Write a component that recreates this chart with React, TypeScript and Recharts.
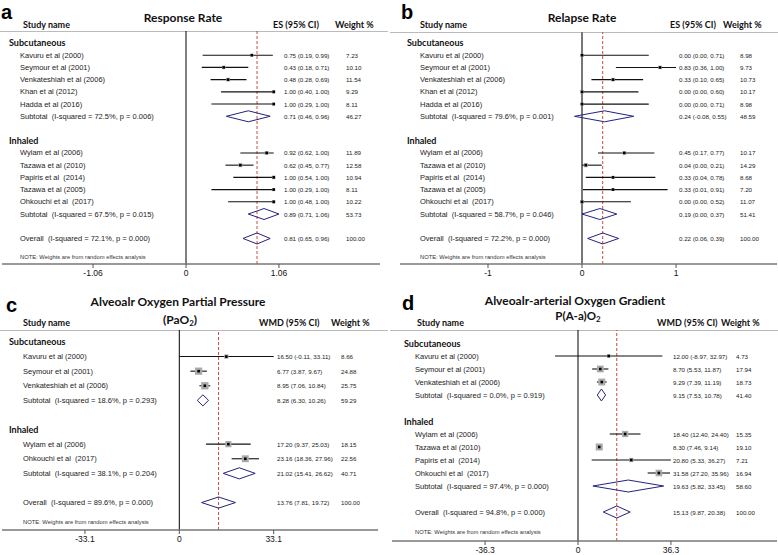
import { ComposedChart, Scatter, XAxis, YAxis, ReferenceLine } from "recharts";

type Est = { label: string; es: number; lo: number; hi: number; w: number };

const groupNames = ["Subcutaneous", "Inhaled"];
const noteText = "NOTE: Weights are from random effects analysis";

// (a) response rate
const respSubcut: Est[] = [
  { label: "Kavuru et al (2000)", es: 0.75, lo: 0.19, hi: 0.99, w: 7.23 },
  { label: "Seymour et al (2001)", es: 0.43, lo: 0.18, hi: 0.71, w: 10.1 },
  { label: "Venkateshiah et al (2006)", es: 0.48, lo: 0.28, hi: 0.69, w: 11.54 },
  { label: "Khan et al (2012)", es: 1.0, lo: 0.4, hi: 1.0, w: 9.29 },
  { label: "Hadda et al (2016)", es: 1.0, lo: 0.29, hi: 1.0, w: 8.11 },
];
const respInhaled: Est[] = [
  { label: "Wylam et al (2006)", es: 0.92, lo: 0.62, hi: 1.0, w: 11.89 },
  { label: "Tazawa et al (2010)", es: 0.62, lo: 0.45, hi: 0.77, w: 12.58 },
  { label: "Papiris et al  (2014)", es: 1.0, lo: 0.54, hi: 1.0, w: 10.94 },
  { label: "Tazawa et al (2005)", es: 1.0, lo: 0.29, hi: 1.0, w: 8.11 },
  { label: "Ohkouchi et al  (2017)", es: 1.0, lo: 0.48, hi: 1.0, w: 10.22 },
];
const respSubtotals: Est[] = [
  { label: "Subtotal  (I-squared = 72.5%, p = 0.006)", es: 0.71, lo: 0.46, hi: 0.96, w: 46.27 },
  { label: "Subtotal  (I-squared = 67.5%, p = 0.015)", es: 0.89, lo: 0.71, hi: 1.06, w: 53.73 },
];
const respOverall: Est = { label: "Overall  (I-squared = 72.1%, p = 0.000)", es: 0.81, lo: 0.65, hi: 0.96, w: 100 };
const respTicks = [-1.06, 0, 1.06];

// (b) relapse rate
const relSubcut: Est[] = [
  { label: "Kavuru et al (2000)", es: 0.0, lo: 0.0, hi: 0.71, w: 8.98 },
  { label: "Seymour et al (2001)", es: 0.83, lo: 0.36, hi: 1.0, w: 9.73 },
  { label: "Venkateshiah et al (2006)", es: 0.33, lo: 0.1, hi: 0.65, w: 10.73 },
  { label: "Khan et al (2012)", es: 0.0, lo: 0.0, hi: 0.6, w: 10.17 },
  { label: "Hadda et al (2016)", es: 0.0, lo: 0.0, hi: 0.71, w: 8.98 },
];
const relInhaled: Est[] = [
  { label: "Wylam et al (2006)", es: 0.45, lo: 0.17, hi: 0.77, w: 10.17 },
  { label: "Tazawa et al (2010)", es: 0.04, lo: 0.0, hi: 0.21, w: 14.29 },
  { label: "Papiris et al  (2014)", es: 0.33, lo: 0.04, hi: 0.78, w: 8.68 },
  { label: "Tazawa et al (2005)", es: 0.33, lo: 0.01, hi: 0.91, w: 7.2 },
  { label: "Ohkouchi et al  (2017)", es: 0.0, lo: 0.0, hi: 0.52, w: 11.07 },
];
const relSubtotals: Est[] = [
  { label: "Subtotal  (I-squared = 79.6%, p = 0.001)", es: 0.24, lo: -0.08, hi: 0.55, w: 48.59 },
  { label: "Subtotal  (I-squared = 58.7%, p = 0.046)", es: 0.19, lo: 0.0, hi: 0.37, w: 51.41 },
];
const relOverall: Est = { label: "Overall  (I-squared = 72.2%, p = 0.000)", es: 0.22, lo: 0.06, hi: 0.39, w: 100 };
const relTicks = [-1, 0, 1];

// (c) PaO2
const paoSubcut: Est[] = [
  { label: "Kavuru et al (2000)", es: 16.5, lo: -0.11, hi: 33.11, w: 8.66 },
  { label: "Seymour et al (2001)", es: 6.77, lo: 3.87, hi: 9.67, w: 24.88 },
  { label: "Venkateshiah et al (2006)", es: 8.95, lo: 7.06, hi: 10.84, w: 25.75 },
];
const paoInhaled: Est[] = [
  { label: "Wylam et al (2006)", es: 17.2, lo: 9.37, hi: 25.03, w: 18.15 },
  { label: "Ohkouchi et al  (2017)", es: 23.16, lo: 18.36, hi: 27.96, w: 22.56 },
];
const paoSubtotals: Est[] = [
  { label: "Subtotal  (I-squared = 18.6%, p = 0.293)", es: 8.28, lo: 6.3, hi: 10.26, w: 59.29 },
  { label: "Subtotal  (I-squared = 38.1%, p = 0.204)", es: 21.02, lo: 15.41, hi: 26.62, w: 40.71 },
];
const paoOverall: Est = { label: "Overall  (I-squared = 89.6%, p = 0.000)", es: 13.76, lo: 7.81, hi: 19.72, w: 100 };
const paoTicks = [-33.1, 0, 33.1];

// (d) P(A-a)O2
const gradSubcut: Est[] = [
  { label: "Kavuru et al (2000)", es: 12.0, lo: -8.97, hi: 32.97, w: 4.73 },
  { label: "Seymour et al (2001)", es: 8.7, lo: 5.53, hi: 11.87, w: 17.94 },
  { label: "Venkateshiah et al (2006)", es: 9.29, lo: 7.39, hi: 11.19, w: 18.73 },
];
const gradInhaled: Est[] = [
  { label: "Wylam et al (2006)", es: 18.4, lo: 12.4, hi: 24.4, w: 15.35 },
  { label: "Tazawa et al (2010)", es: 8.3, lo: 7.46, hi: 9.14, w: 19.1 },
  { label: "Papiris et al  (2014)", es: 20.8, lo: 5.33, hi: 36.27, w: 7.21 },
  { label: "Ohkouchi et al  (2017)", es: 31.58, lo: 27.2, hi: 35.96, w: 16.94 },
];
const gradSubtotals: Est[] = [
  { label: "Subtotal  (I-squared = 0.0%, p = 0.919)", es: 9.15, lo: 7.53, hi: 10.78, w: 41.4 },
  { label: "Subtotal  (I-squared = 97.4%, p = 0.000)", es: 19.63, lo: 5.82, hi: 33.45, w: 58.6 },
];
const gradOverall: Est = { label: "Overall  (I-squared = 94.8%, p = 0.000)", es: 15.13, lo: 9.87, hi: 20.38, w: 100 };
const gradTicks = [-36.3, 0, 36.3];

const SANS = "'Liberation Sans', Arial, sans-serif";
const BOLD = "Lato, 'Open Sans', sans-serif";
const NAVY = "#23237e";

type Row = Partial<Est> & { kind: string; y: number; x: number };

function buildRows(groups: Est[][], subtotals: Est[], overall: Est, noteGap: number): Row[] {
  const rows: Row[] = [];
  let r = 0;
  groups.forEach((studies, i) => {
    rows.push({ kind: "group", label: groupNames[i], y: r, x: 0 });
    r++;
    studies.forEach((s) => {
      rows.push({ kind: "study", ...s, y: r, x: s.es });
      r++;
    });
    rows.push({ kind: "sub", ...subtotals[i], y: r, x: subtotals[i].es });
    r += 2;
  });
  rows.push({ kind: "overall", ...overall, y: r, x: overall.es });
  rows.push({ kind: "note", label: noteText, y: r + noteGap, x: 0 });
  return rows;
}

const panels = [
  {
    key: "a", groups: [respSubcut, respInhaled], subtotals: respSubtotals, overall: respOverall, ticks: respTicks,
    left: 0, top: 0, width: 385, height: 280, margin: { top: 31, right: 5, bottom: 0, left: 2 }, axisH: 16,
    xDomain: [-2.098, 2.212], yDomain: [-0.98, 18.09], noteGap: 1.5,
    cols: { group: 9, name: 20, ci: 284, w: 346 }, zero: "#000", zeroW: 1, box: 1.1, half: 0.45,
  },
  {
    key: "b", groups: [relSubcut, relInhaled], subtotals: relSubtotals, overall: relOverall, ticks: relTicks,
    left: 390, top: 0, width: 388, height: 280, margin: { top: 32, right: 1, bottom: 0, left: 10 }, axisH: 16,
    xDomain: [-1.936, 2.074], yDomain: [-0.9, 18.09], noteGap: 1.5,
    cols: { group: 407, name: 420, ci: 679, w: 740 }, zero: "#777", zeroW: 2, box: 1.1, half: 0.45,
  },
  {
    key: "c", groups: [paoSubcut, paoInhaled], subtotals: paoSubtotals, overall: paoOverall, ticks: paoTicks,
    left: 0, top: 280, width: 385, height: 275, margin: { top: 50, right: 7, bottom: 9, left: 2 }, axisH: 16,
    xDomain: [-62.2, 69.7], yDomain: [-0.82, 12.88], noteGap: 1.3,
    cols: { group: 9, name: 23, ci: 277, w: 341 }, zero: "#000", zeroW: 1, box: 1.45, half: 0.38,
  },
  {
    key: "d", groups: [gradSubcut, gradInhaled], subtotals: gradSubtotals, overall: gradOverall, ticks: gradTicks,
    left: 390, top: 280, width: 388, height: 275, margin: { top: 50, right: 1, bottom: 0, left: 2 }, axisH: 14,
    xDomain: [-72.66, 77.73], yDomain: [-1, 15.23], noteGap: 1.5,
    cols: { group: 404, name: 415, ci: 673, w: 736 }, zero: "#000", zeroW: 1, box: 1.6, half: 0.46,
  },
];

type Panel = (typeof panels)[number];

function Forest({ p }: { p: Panel }) {
  const rows = buildRows(p.groups, p.subtotals, p.overall, p.noteGap);
  const studies = rows.filter((r) => r.kind === "study");
  const diamonds = rows.filter((r) => r.kind === "sub" || r.kind === "overall");
  const labelRows = rows.map((r) => ({ ...r, x: 0 }));
  const cx0 = (px: number) => px - p.left;

  const Box = (props: any) => {
    const { cx, cy, payload } = props;
    const s = p.box * Math.sqrt(payload.w);
    return (
      <g>
        <rect x={cx - s / 2} y={cy - s / 2} width={s} height={s} fill="#aaa" />
        <rect x={cx - 1.3} y={cy - 1.3} width={2.6} height={2.6} fill="#000" />
      </g>
    );
  };

  const Label = (props: any) => {
    const { cy, payload } = props;
    if (payload.kind === "group") {
      return (
        <text x={cx0(p.cols.group)} y={cy} dominantBaseline="central" fontFamily={BOLD} fontWeight={700} fontSize={9} fill="#111">
          {payload.label}
        </text>
      );
    }
    if (payload.kind === "note") {
      return (
        <text x={cx0(p.cols.name)} y={cy} dominantBaseline="central" fontFamily={SANS} fontSize={5.8} fill="#333">
          {payload.label}
        </text>
      );
    }
    const ci = `${payload.es.toFixed(2)} (${payload.lo.toFixed(2)}, ${payload.hi.toFixed(2)})`;
    return (
      <g fontFamily={SANS} fill="#222">
        <text x={cx0(p.cols.name)} y={cy} dominantBaseline="central" fontSize={7.5} style={{ whiteSpace: "pre" }}>
          {payload.label}
        </text>
        <text x={cx0(p.cols.ci)} y={cy} dominantBaseline="central" fontSize={6.2}>
          {ci}
        </text>
        <text x={cx0(p.cols.w)} y={cy} dominantBaseline="central" fontSize={6.2}>
          {payload.w.toFixed(2)}
        </text>
      </g>
    );
  };

  return (
    <div style={{ position: "absolute", left: p.left, top: p.top }}>
      <ComposedChart width={p.width} height={p.height} margin={p.margin}>
        <XAxis
          type="number"
          dataKey="x"
          domain={p.xDomain}
          ticks={p.ticks}
          interval={0}
          allowDataOverflow
          height={p.axisH}
          tickSize={4}
          tickLine={{ stroke: "#555" }}
          axisLine={{ stroke: "#777", strokeWidth: 1.5 }}
          tick={{ fontSize: 8.5, fill: "#111", fontFamily: SANS }}
        />
        <YAxis type="number" dataKey="y" domain={p.yDomain} reversed hide allowDataOverflow />
        <ReferenceLine x={0} stroke={p.zero} strokeWidth={p.zeroW} />
        <ReferenceLine x={p.overall.es} stroke="#c0392b" strokeWidth={0.9} strokeDasharray="3 2" />
        {studies.map((s) => (
          <ReferenceLine
            key={"ci" + s.y}
            segment={[{ x: s.lo, y: s.y }, { x: s.hi, y: s.y }]}
            stroke="#111"
            strokeWidth={1.1}
            ifOverflow="visible"
          />
        ))}
        {diamonds.flatMap((d) => {
          const pts = [
            { x: d.lo, y: d.y },
            { x: d.es, y: d.y - p.half },
            { x: d.hi, y: d.y },
            { x: d.es, y: d.y + p.half },
          ];
          return pts.map((pt, i) => (
            <ReferenceLine
              key={"dm" + d.y + "-" + i}
              segment={[pt, pts[(i + 1) % 4]]}
              stroke={NAVY}
              strokeWidth={1}
              ifOverflow="visible"
            />
          ));
        })}
        <Scatter data={studies} shape={Box} isAnimationActive={false} />
        <Scatter data={labelRows} shape={Label} isAnimationActive={false} />
      </ComposedChart>
    </div>
  );
}

export default function App() {
  return (
    <div style={{ position: "absolute", left: 0, top: 0, width: 778, height: 555, background: "#fff", overflow: "hidden" }}>
      <svg width={778} height={555} style={{ position: "absolute", left: 0, top: 0 }}>
        <g fontFamily="'Liberation Sans', Arial, sans-serif" fontWeight={700} fontSize={20} fill="#000">
          <text x={1} y={18.5}>a</text>
          <text x={401} y={18.5}>b</text>
          <text x={6} y={312}>c</text>
          <text x={402} y={310}>d</text>
        </g>
        <g fontFamily={BOLD} fontWeight={700} fill="#111">
          <text x={183} y={21.5} fontSize={12} textAnchor="middle">Response Rate</text>
          <text x={582} y={22} fontSize={12} textAnchor="middle">Relapse Rate</text>
          <text x={178} y={306} fontSize={12} textAnchor="middle">Alveoalr Oxygen Partial Pressure</text>
          <text x={180} y={324} fontSize={12} textAnchor="middle">
            (PaO<tspan fontSize={8} dy={2}>2</tspan><tspan dy={-2}>)</tspan>
          </text>
          <text x={575} y={304.5} fontSize={12} textAnchor="middle">Alveoalr-arterial Oxygen Gradient</text>
          <text x={578} y={320} fontSize={11.5} textAnchor="middle">
            P(A-a)O<tspan fontSize={8} dy={2}>2</tspan>
          </text>
          <g fontSize={9}>
            <text x={23} y={28}>Study name</text>
            <text x={273} y={28}>ES (95% CI)</text>
            <text x={335} y={28}>Weight %</text>
            <text x={420} y={28}>Study name</text>
            <text x={670} y={28}>ES (95% CI)</text>
            <text x={723} y={28}>Weight %</text>
            <text x={23} y={326}>Study name</text>
            <text x={259} y={326}>WMD (95% CI)</text>
            <text x={331} y={326}>Weight %</text>
            <text x={417} y={326}>Study name</text>
            <text x={657} y={326}>WMD (95% CI)</text>
            <text x={721} y={326}>Weight %</text>
          </g>
        </g>
        <g stroke="#bbb" strokeWidth={1}>
          <line x1={0} x2={388} y1={31.5} y2={31.5} />
          <line x1={390} x2={778} y1={32.5} y2={32.5} />
          <line x1={0} x2={388} y1={330.5} y2={330.5} />
          <line x1={390} x2={778} y1={330.5} y2={330.5} />
        </g>
      </svg>
      {panels.map((p) => (
        <Forest key={p.key} p={p} />
      ))}
    </div>
  );
}
